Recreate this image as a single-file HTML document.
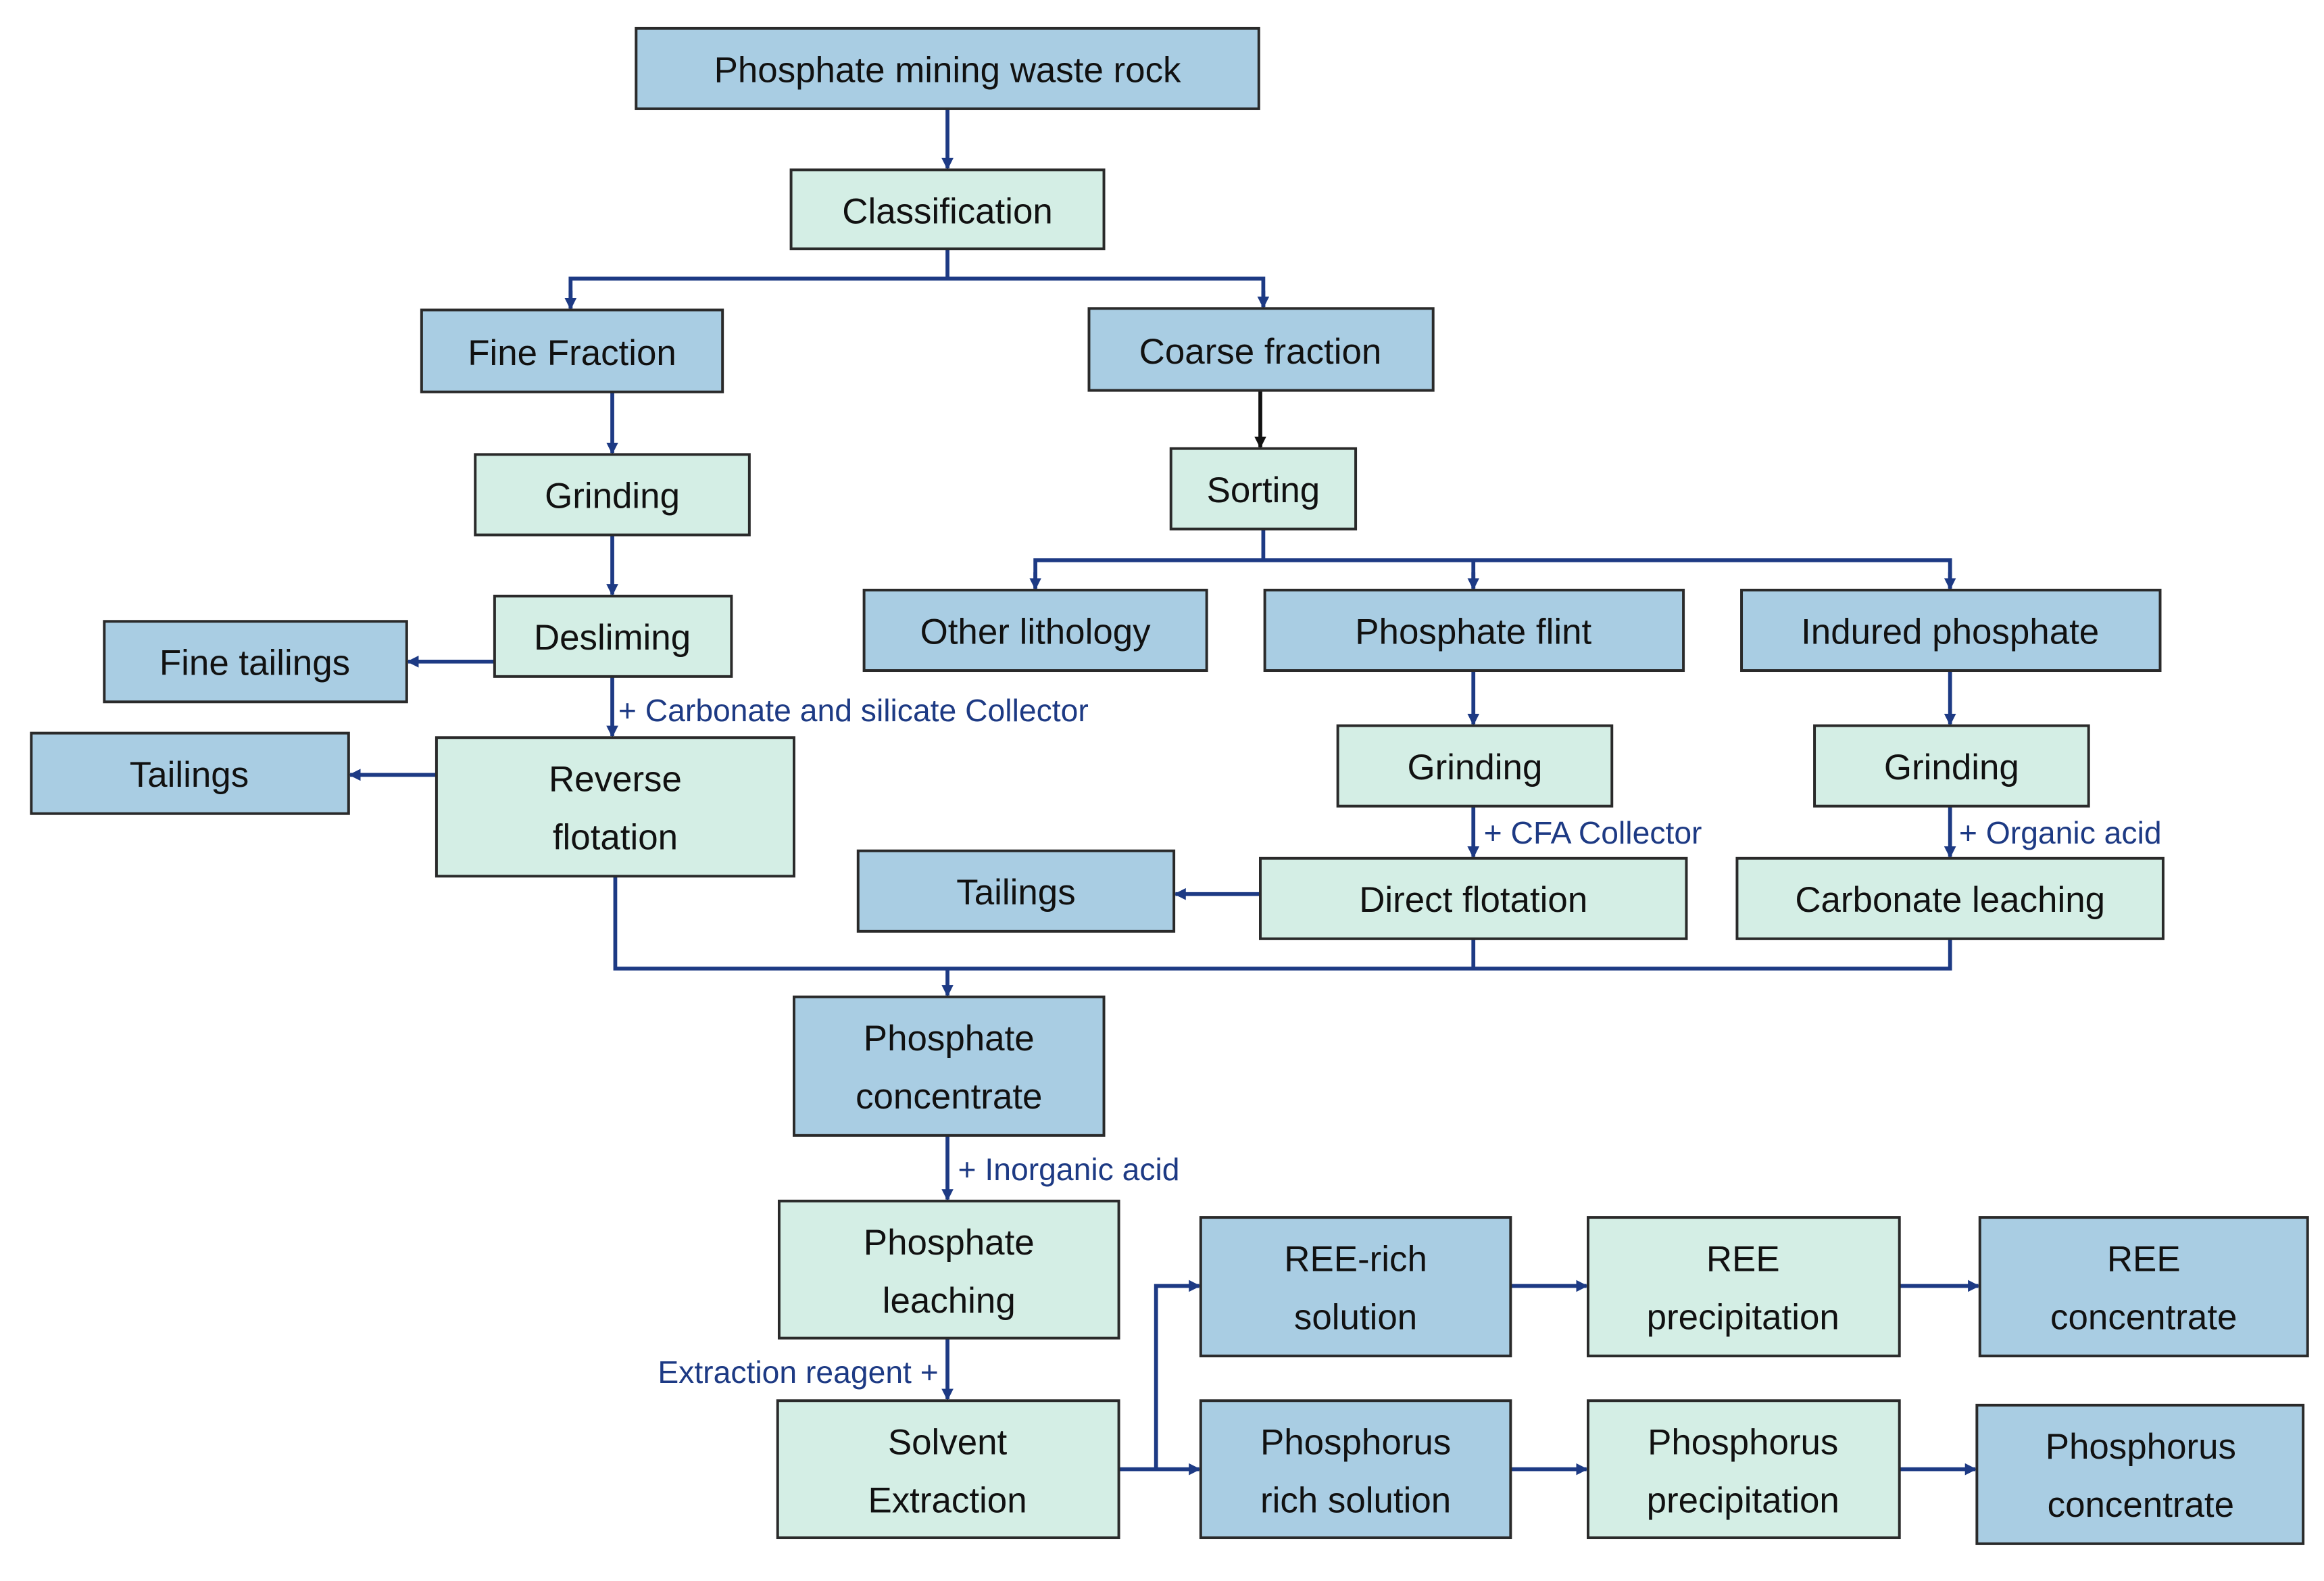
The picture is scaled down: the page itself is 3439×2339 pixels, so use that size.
<!DOCTYPE html>
<html><head><meta charset="utf-8"><style>
html,body{margin:0;padding:0;background:#fff;}
svg{display:block;}
.b{fill:#a9cde3;stroke:#2a2a2a;stroke-width:1.8;}
.g{fill:#d4eee5;stroke:#2a2a2a;stroke-width:1.8;}
text{font-family:"Liberation Sans",sans-serif;font-size:24px;fill:#111;text-anchor:middle;}
.a{font-size:21px;fill:#1d3a84;text-anchor:start;}
.l{fill:none;stroke:#1d3a84;stroke-width:2.6;}
</style></head><body>
<svg width="3439" height="2339" viewBox="0 0 1560 1061" xmlns="http://www.w3.org/2000/svg">
<defs><marker id="m" markerWidth="8" markerHeight="8" refX="7" refY="4" orient="auto" markerUnits="userSpaceOnUse"><path d="M0,0 L8,4 L0,8z" fill="#1d3a84"/></marker>
<marker id="k" markerWidth="8" markerHeight="8" refX="7" refY="4" orient="auto" markerUnits="userSpaceOnUse"><path d="M0,0 L8,4 L0,8z" fill="#111"/></marker></defs>
<!-- connectors -->
<path class="l" d="M636,73 V113" marker-end="url(#m)"/>
<path class="l" d="M636,167 V187 H383 V207 M636,187 H848 V206"/>
<path class="l" d="M383,195 V207" marker-end="url(#m)"/>
<path class="l" d="M848,195 V206" marker-end="url(#m)"/>
<path class="l" d="M411,263 V304" marker-end="url(#m)"/>
<path d="M846,262 V300" stroke="#111" stroke-width="2.6" fill="none" marker-end="url(#k)"/>
<path class="l" d="M411,359 V399" marker-end="url(#m)"/>
<path class="l" d="M332,444 H274" marker-end="url(#m)"/>
<path class="l" d="M411,454 V494" marker-end="url(#m)"/>
<path class="l" d="M293,520 H235" marker-end="url(#m)"/>
<path class="l" d="M848,355 V376 H695 V395 M848,376 H1309 V395 M989,376 V395"/>
<path class="l" d="M695,384 V395" marker-end="url(#m)"/>
<path class="l" d="M989,384 V395" marker-end="url(#m)"/>
<path class="l" d="M1309,384 V395" marker-end="url(#m)"/>
<path class="l" d="M989,450 V486" marker-end="url(#m)"/>
<path class="l" d="M1309,450 V486" marker-end="url(#m)"/>
<path class="l" d="M989,541 V575" marker-end="url(#m)"/>
<path class="l" d="M1309,541 V575" marker-end="url(#m)"/>
<path class="l" d="M846,600 H789" marker-end="url(#m)"/>
<path class="l" d="M413,588 V650 H1309 V630 M989,630 V650"/>
<path class="l" d="M636,650 V668" marker-end="url(#m)"/>
<path class="l" d="M636,762 V805" marker-end="url(#m)"/>
<path class="l" d="M636,898 V939" marker-end="url(#m)"/>
<path class="l" d="M751,986 H805" marker-end="url(#m)"/>
<path class="l" d="M776,986 V863 H805" marker-end="url(#m)"/>
<path class="l" d="M1014,863 H1065" marker-end="url(#m)"/>
<path class="l" d="M1275,863 H1328" marker-end="url(#m)"/>
<path class="l" d="M1014,986 H1065" marker-end="url(#m)"/>
<path class="l" d="M1275,986 H1326" marker-end="url(#m)"/>
<!-- annotations -->
<text class="a" x="415" y="484">+ Carbonate and silicate Collector</text>
<text class="a" x="996" y="566">+ CFA Collector</text>
<text class="a" x="1315" y="566">+ Organic acid</text>
<text class="a" x="643" y="792">+ Inorganic acid</text>
<text class="a" x="630" y="928" style="text-anchor:end">Extraction reagent +</text>
<!-- boxes -->
<rect class="b" x="427" y="19" width="418" height="54"/><text x="636" y="55">Phosphate mining waste rock</text>
<rect class="g" x="531" y="114" width="210" height="53"/><text x="636" y="150">Classification</text>
<rect class="b" x="283" y="208" width="202" height="55"/><text x="384" y="245">Fine Fraction</text>
<rect class="b" x="731" y="207" width="231" height="55"/><text x="846" y="244">Coarse fraction</text>
<rect class="g" x="319" y="305" width="184" height="54"/><text x="411" y="341">Grinding</text>
<rect class="g" x="786" y="301" width="124" height="54"/><text x="848" y="337">Sorting</text>
<rect class="g" x="332" y="400" width="159" height="54"/><text x="411" y="436">Desliming</text>
<rect class="b" x="70" y="417" width="203" height="54"/><text x="171" y="453">Fine tailings</text>
<rect class="b" x="580" y="396" width="230" height="54"/><text x="695" y="432">Other lithology</text>
<rect class="b" x="849" y="396" width="281" height="54"/><text x="989" y="432">Phosphate flint</text>
<rect class="b" x="1169" y="396" width="281" height="54"/><text x="1309" y="432">Indured phosphate</text>
<rect class="b" x="21" y="492" width="213" height="54"/><text x="127" y="528">Tailings</text>
<rect class="g" x="293" y="495" width="240" height="93"/><text x="413" y="531">Reverse</text><text x="413" y="570">flotation</text>
<rect class="g" x="898" y="487" width="184" height="54"/><text x="990" y="523">Grinding</text>
<rect class="g" x="1218" y="487" width="184" height="54"/><text x="1310" y="523">Grinding</text>
<rect class="b" x="576" y="571" width="212" height="54"/><text x="682" y="607">Tailings</text>
<rect class="g" x="846" y="576" width="286" height="54"/><text x="989" y="612">Direct flotation</text>
<rect class="g" x="1166" y="576" width="286" height="54"/><text x="1309" y="612">Carbonate leaching</text>
<rect class="b" x="533" y="669" width="208" height="93"/><text x="637" y="705">Phosphate</text><text x="637" y="744">concentrate</text>
<rect class="g" x="523" y="806" width="228" height="92"/><text x="637" y="842">Phosphate</text><text x="637" y="881">leaching</text>
<rect class="g" x="522" y="940" width="229" height="92"/><text x="636" y="976">Solvent</text><text x="636" y="1015">Extraction</text>
<rect class="b" x="806" y="817" width="208" height="93"/><text x="910" y="853">REE-rich</text><text x="910" y="892">solution</text>
<rect class="g" x="1066" y="817" width="209" height="93"/><text x="1170" y="853">REE</text><text x="1170" y="892">precipitation</text>
<rect class="b" x="1329" y="817" width="220" height="93"/><text x="1439" y="853">REE</text><text x="1439" y="892">concentrate</text>
<rect class="b" x="806" y="940" width="208" height="92"/><text x="910" y="976">Phosphorus</text><text x="910" y="1015">rich solution</text>
<rect class="g" x="1066" y="940" width="209" height="92"/><text x="1170" y="976">Phosphorus</text><text x="1170" y="1015">precipitation</text>
<rect class="b" x="1327" y="943" width="219" height="93"/><text x="1437" y="979">Phosphorus</text><text x="1437" y="1018">concentrate</text>
</svg>
</body></html>
